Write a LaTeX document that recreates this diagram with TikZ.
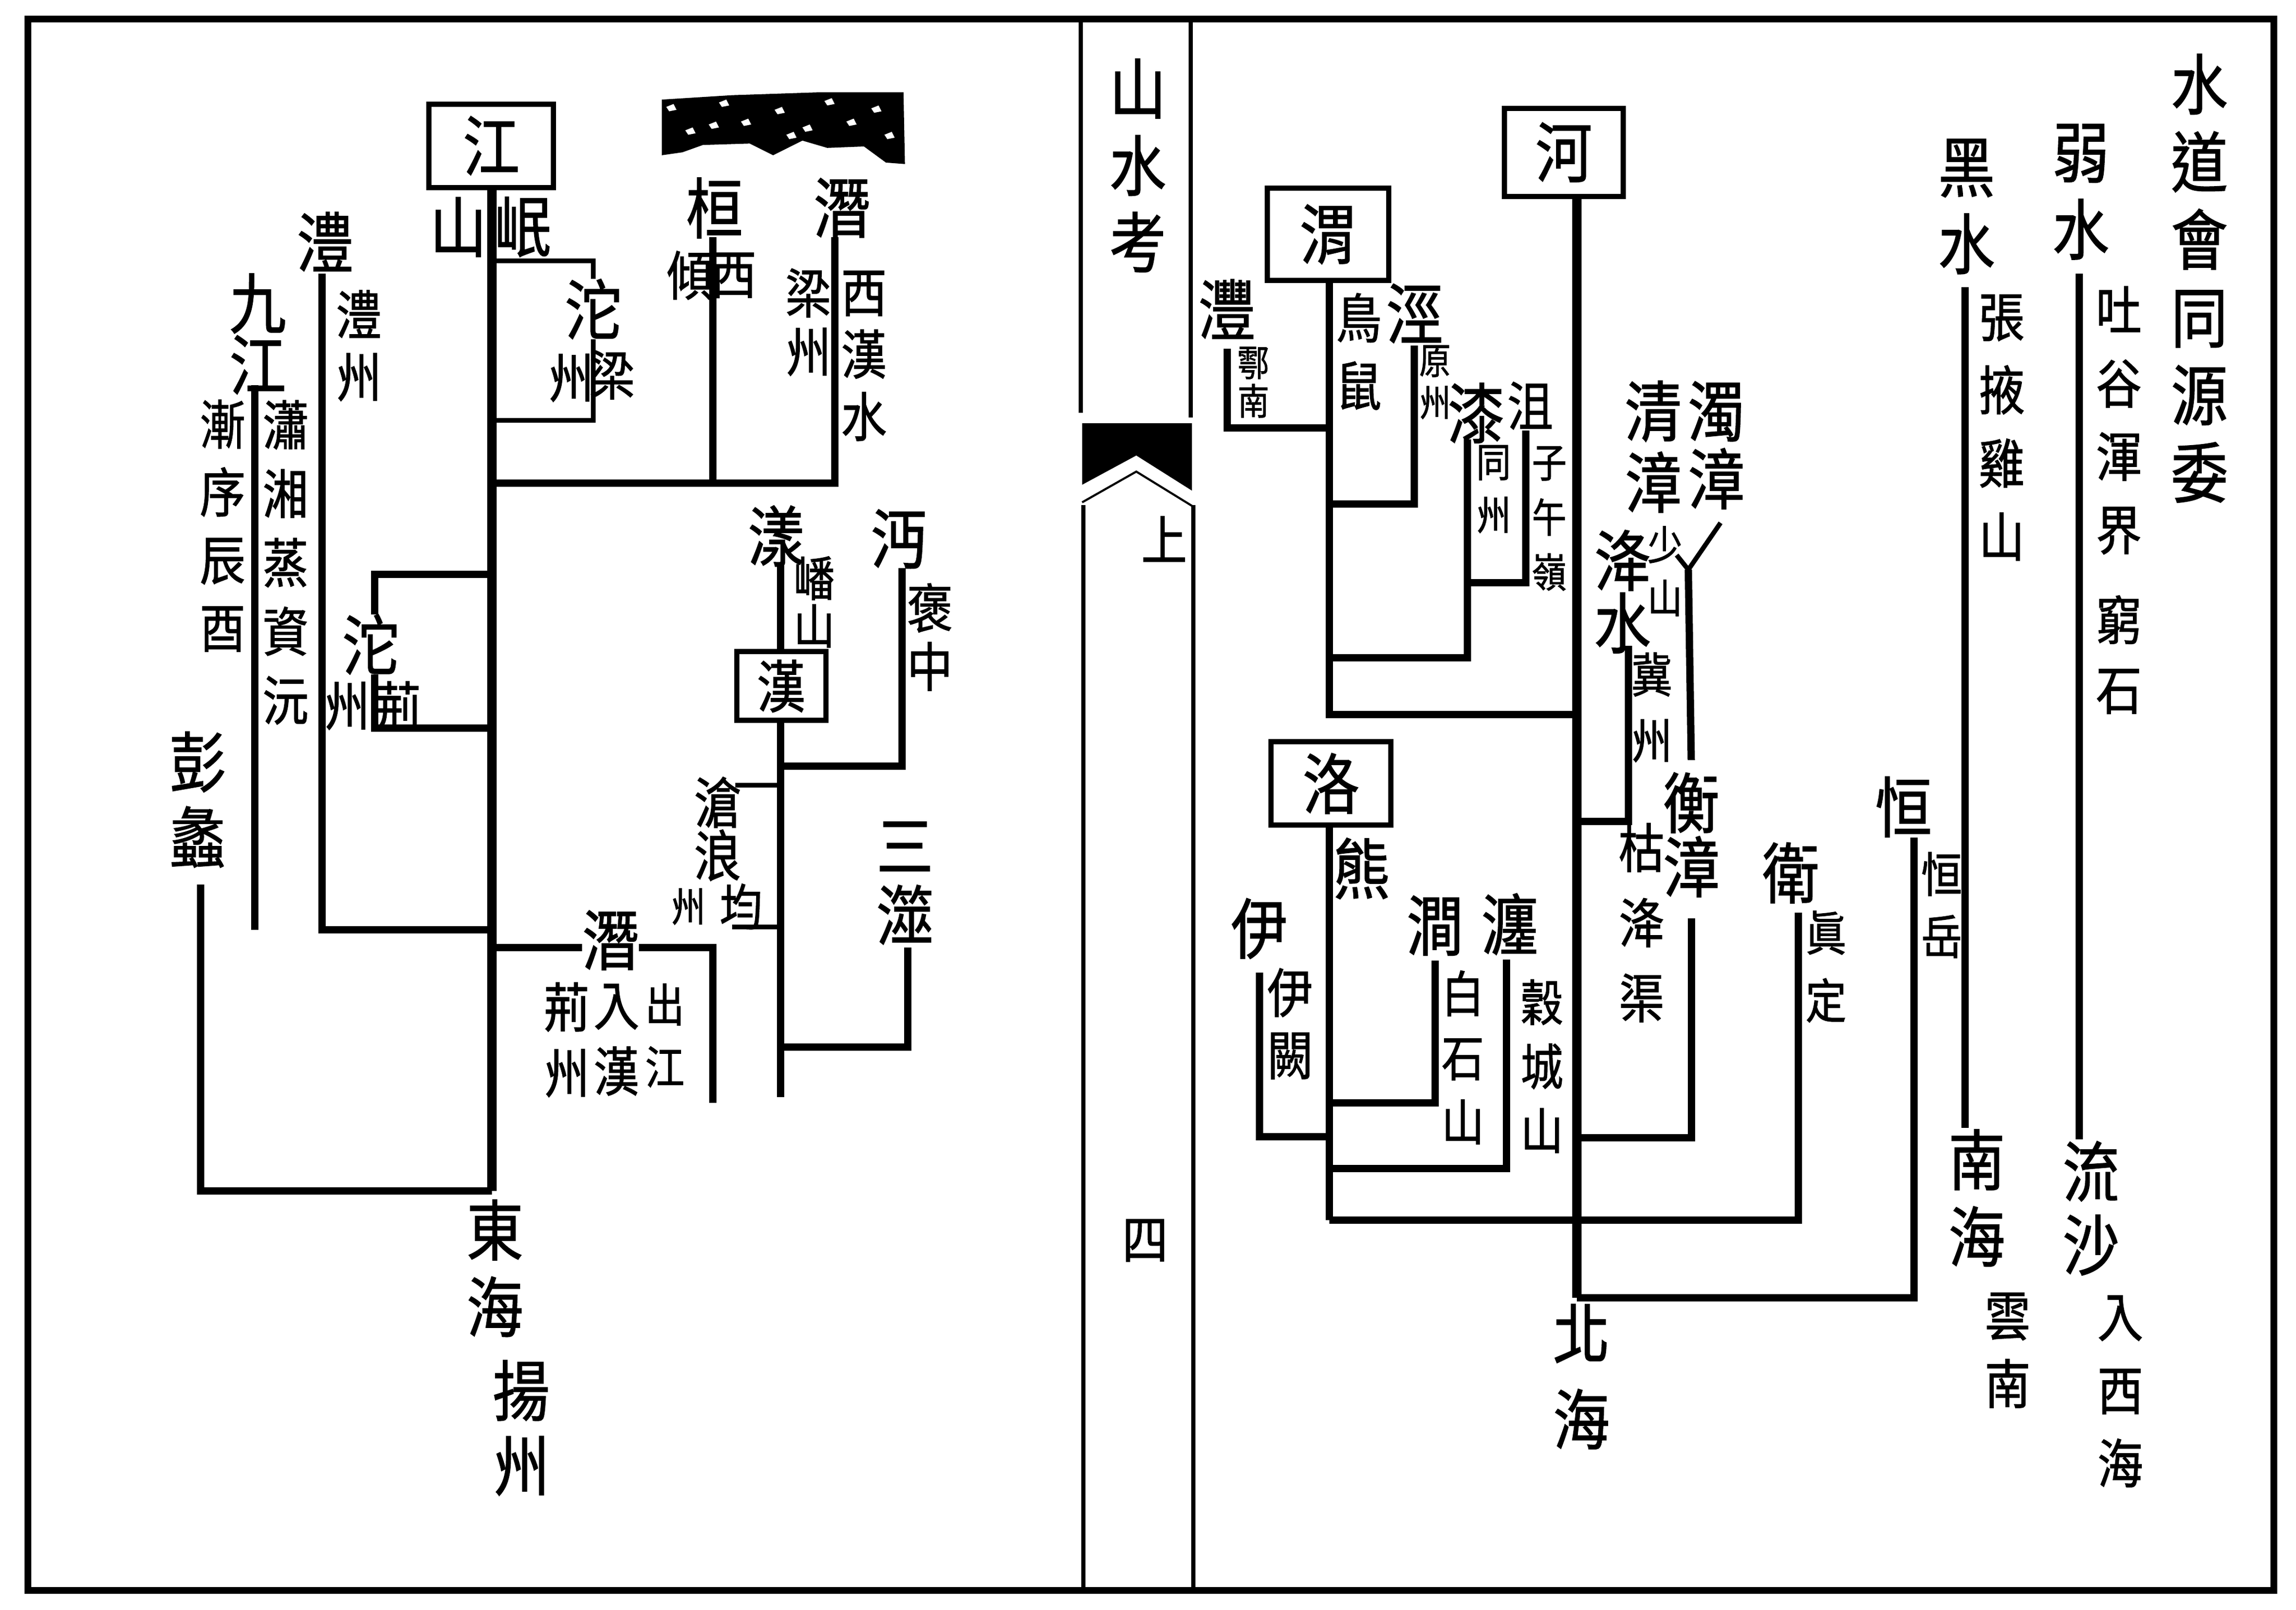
\documentclass[tikz,border=0pt]{standalone}
\usepackage{fontspec}
\usepackage{tikz}
\usetikzlibrary{positioning}
\newfontfamily\cjk[FakeStretch=0.86, FakeBold=1.2]{Noto Sans CJK TC}

\tikzset{
  mainline/.style={line width=1.8mm},
  river/.style={line width=1.4mm},
  thinriver/.style={line width=0.9mm},
  rivbox/.style={draw, line width=1.0mm, inner sep=0pt, font=\cjk\fontsize{36}{36}\selectfont},
  tx/.style 2 args={inner sep=0pt, align=center, font=\cjk\fontsize{#1}{#2}\selectfont},
  bigtxt/.style={tx={36}{#1}},
  bigtxt/.default=42,
  midtxt/.style={tx={29}{#1}},
  midtxt/.default=40,
  smalltxt/.style={tx={22}{#1}},
  smalltxt/.default=29,
  cover/.style={fill=white}
}

\begin{document}
\begin{tikzpicture}[x=0.281mm, y=-0.281mm]
    \fill[white] (0,0) rectangle (1568,1099.3);
    \useasboundingbox (0,0) rectangle (1568,1099.3);

    % Frame and centre column
    \draw[line width=1.3mm] (19,13) rectangle (1553,1086);
    \draw[line width=0.8mm] (738,13) -- (738,282);
    \draw[line width=0.8mm] (813,13) -- (813,285);
    \draw[line width=0.8mm] (740,345) -- (740,1086);
    \draw[line width=0.8mm] (815,345) -- (815,1086);
    \fill (739,289) -- (814,289) -- (814,335) -- (776,311) -- (739,331) -- cycle;
    \draw[line width=0.4mm] (739,343) -- (776,322) -- (815,346);
    \node[bigtxt] (shanshuikao) at (777,113) {山\\水\\考};
    \node[midtxt] (shang) at (795,368) {上};
    \node[midtxt] (si) at (782,847) {四};

    % Blotted heading, left page
    \fill (452,68) -- (500,65) -- (560,63) -- (617,63) -- (618,112) -- (605,111) -- (590,100)
          -- (565,101) -- (548,96) -- (528,106) -- (512,98) -- (480,99) -- (466,104) -- (452,106) -- cycle;
    \foreach \spot in {(458,74),(471,90),(494,71),(509,84),(532,76),(551,88),(566,70),(581,84),(598,75),(607,93),(487,86),(540,93)} {
        \fill[white] \spot ++(-3,-1) -- ++(5,-2) -- ++(2,4) -- ++(-5,1) -- cycle;
    }

    % Right page: title
    \node[bigtxt=42.4] (title) at (1502,190) {水\\道\\會\\同\\源\\委};

    % Define boxes
    \node[rivbox, minimum width=22.8mm, minimum height=16.9mm] (he) at (1068,104) {河};
    \node[rivbox, minimum width=23.3mm, minimum height=17.7mm] (wei) at (907,160) {渭};
    \node[rivbox, minimum width=23.0mm, minimum height=16.0mm] (luo) at (909,535) {洛};
    \node[rivbox, minimum width=23.9mm, minimum height=16.0mm] (jiang) at (335.5,99.5) {江};
    \node[rivbox, minimum width=17.1mm, minimum height=13.2mm,
          font=\cjk\fontsize{31}{31}\selectfont] (han) at (533.5,468.5) {漢};

    % Define junctions and free ends
    \coordinate (ruo-top) at (1420,187);   \coordinate (ruo-end) at (1420,778);
    \coordinate (hei-top) at (1342,196);   \coordinate (hei-end) at (1342,770);
    \coordinate (heng-top) at (1307,572);  \coordinate (he-end) at (1077,886);
    \coordinate (wei2-top) at (1228,623);  \coordinate (luo-end) at (908,833);
    \coordinate (zhang-y) at (1153,389);   \coordinate (zhang-mid) at (1155,519);
    \coordinate (zhuo-top) at (1175,357);  \coordinate (qing-top) at (1145,379);
    \coordinate (heng2-top) at (1155,627); \coordinate (heng2-j) at (1077,777);
    \coordinate (jiang2-top) at (1112,441);\coordinate (jiang2-j) at (1077,561);
    \coordinate (wei-j) at (1077,488);
    \coordinate (feng-top) at (838,238);   \coordinate (feng-j) at (908,292);
    \coordinate (jing-top) at (966,236);   \coordinate (jing-j) at (908,344);
    \coordinate (qi-top) at (1002,300);    \coordinate (qi-j) at (908,449);
    \coordinate (ju-top) at (1042,294);    \coordinate (ju-j) at (1002,398);
    \coordinate (yi-top) at (860,664);     \coordinate (yi-j) at (908,776);
    \coordinate (jian-top) at (980,656);   \coordinate (jian-j) at (908,753);
    \coordinate (chan-top) at (1029,655);  \coordinate (chan-j) at (908,798);
    \coordinate (jiang-end) at (336,813);
    \coordinate (tuoa-j1) at (336,178);    \coordinate (tuoa-c) at (405,287);
    \coordinate (tuoa-j2) at (336,287);
    \coordinate (qiana-top) at (570,162);  \coordinate (qiana-j) at (336,330);
    \coordinate (huan-top) at (487,162);   \coordinate (huan-j) at (487,330);
    \coordinate (yang-top) at (533,385);   \coordinate (han-end) at (533,749);
    \coordinate (mian-top) at (616,388);   \coordinate (mian-j) at (533,523);
    \coordinate (cang-top) at (502,536);   \coordinate (cang-j) at (533,536);
    \coordinate (cang-bot) at (500,633);   \coordinate (cang-j2) at (533,633);
    \coordinate (sanshi-top) at (620,647); \coordinate (sanshi-j) at (533,715);
    \coordinate (qianb-j) at (336,647);    \coordinate (qianb-end) at (487,753);
    \coordinate (tuob-j1) at (336,392);    \coordinate (tuob-c) at (256,497);
    \coordinate (tuob-j2) at (336,497);
    \coordinate (li-top) at (220,187);     \coordinate (li-j) at (336,635);
    \coordinate (jiu-top) at (174,263);    \coordinate (jiu-end) at (174,635);
    \coordinate (peng-top) at (137,604);

    % Draw rivers, right page
    \draw[river] (ruo-top) -- (ruo-end);
    \draw[river] (hei-top) -- (hei-end);
    \draw[mainline] (he.south -| he-end) -- (he-end);
    \draw[river] (heng-top) |- (he-end);
    \draw[river] (wei2-top) |- (luo-end);
    \draw[thinriver] (zhuo-top) -- (zhang-y);
    \draw[thinriver] (qing-top) -- (zhang-y);
    \draw[river] (zhang-y) -- (zhang-mid);
    \draw[river] (heng2-top) |- (heng2-j);
    \draw[river] (jiang2-top) |- (jiang2-j);
    \draw[river] (wei.south -| feng-j) |- (wei-j);
    \draw[river] (feng-top) |- (feng-j);
    \draw[river] (jing-top) |- (jing-j);
    \draw[river] (qi-top) |- (qi-j);
    \draw[river] (ju-top) |- (ju-j);
    \draw[river] (luo.south -| luo-end) -- (luo-end);
    \draw[river] (yi-top) |- (yi-j);
    \draw[river] (jian-top) |- (jian-j);
    \draw[river] (chan-top) |- (chan-j);

    % Draw rivers, left page
    \draw[mainline] (jiang.south -| jiang-end) -- (jiang-end);
    \draw[thinriver] (tuoa-j1) -| (tuoa-c) -- (tuoa-j2);
    \draw[river] (qiana-top) |- (qiana-j);
    \draw[river] (huan-top) -- (huan-j);
    \draw[river] (yang-top) -- (han.north -| yang-top);
    \draw[river] (han.south -| han-end) -- (han-end);
    \draw[river] (mian-top) |- (mian-j);
    \draw[thinriver] (cang-top) -- (cang-j);
    \draw[thinriver] (cang-bot) -- (cang-j2);
    \draw[river] (sanshi-top) |- (sanshi-j);
    \draw[river] (qianb-j) -| (qianb-end);
    \draw[river] (tuob-j1) -| (tuob-c) -- (tuob-j2);
    \draw[river] (li-top) |- (li-j);
    \draw[river] (jiu-top) -- (jiu-end);
    \draw[river] (peng-top) |- (jiang-end);

    % Labels, right page
    \node[bigtxt] (ruoshui) at (1421,131) {弱\\水};
    \node[midtxt] (tuyuhun) at (1447,287) {吐\\谷\\渾\\界};
    \node[midtxt=38] (qiongshi) at (1447,447) {窮\\石};
    \node[bigtxt=40] (liusha) at (1428,825) {流\\沙};
    \node[midtxt] (ruxihai) at (1448,950) {入\\西\\海};
    \node[bigtxt] (heishui) at (1343,141) {黑\\水};
    \node[midtxt] (zhangye) at (1367,292) {張\\掖\\雞\\山};
    \node[bigtxt] (nanhai) at (1350,818) {南\\海};
    \node[midtxt=37] (yunnan) at (1371,922) {雲\\南};
    \node[bigtxt] (heng) at (1300,551) {恒};
    \node[tx={26}{34}] (hengyue) at (1326,618) {恒\\岳};
    \node[bigtxt] (wei2) at (1223,596) {衛};
    \node[tx={26}{37}] (zhending) at (1247,660) {眞\\定};
    \node[bigtxt=47] (beihai) at (1080,940) {北\\海};
    \node[bigtxt=37] (zhuozhang) at (1172,304) {濁\\漳};
    \node[bigtxt=39] (qingzhang) at (1129,305) {清\\漳};
    \node[smalltxt] (shaoshan) at (1137,390) {少\\山};
    \node[bigtxt=35] (hengzhang) at (1155,570) {衡\\漳};
    \node[bigtxt=33] (jiangshui) at (1108,404) {洚\\水};
    \node[tx={26}{36}] (jizhou) at (1128,483) {冀\\州};
    \node[midtxt=41] (kujiang) at (1121,630) {枯\\洚\\渠};
    \node[bigtxt] (feng) at (838,211) {灃};
    \node[tx={20}{21}] (hunan) at (856,261) {鄠\\南};
    \node[midtxt=37] (niaoshu) at (928,240) {鳥\\鼠};
    \node[bigtxt] (jing) at (966,214) {涇};
    \node[tx={20}{23}] (yuanzhou) at (980,261) {原\\州};
    \node[bigtxt] (qi) at (1008,282) {漆};
    \node[smalltxt] (tongzhou) at (1020,334) {同\\州};
    \node[midtxt] (ju) at (1045,277) {沮};
    \node[smalltxt=30] (ziwuling) at (1058,354) {子\\午\\嶺};
    \node[bigtxt] (xiong) at (930,593) {熊};
    \node[bigtxt] (yi) at (860,634) {伊};
    \node[midtxt=34] (yique) at (881,699) {伊\\闕};
    \node[bigtxt] (jian) at (980,632) {澗};
    \node[tx={27}{35}] (baishi) at (999,722) {白\\石\\山};
    \node[bigtxt] (chan) at (1031,631) {瀍};
    \node[tx={27}{35}] (gucheng) at (1053,728) {穀\\城\\山};

    % Labels, left page
    \node[bigtxt] (shan) at (313,155) {山};
    \node[bigtxt] (min) at (357,155) {岷};
    \node[bigtxt, cover] (tuoa) at (405,211) {沱};
    \node[midtxt] (tuoa-zhou) at (390,258) {州};
    \node[midtxt] (tuoa-liang) at (418,256) {梁};
    \node[bigtxt] (qiana) at (575,142) {潛};
    \node[midtxt=32] (liangzhou) at (552,220) {梁\\州};
    \node[midtxt=34] (xihanshui) at (590,243) {西\\漢\\水};
    \node[bigtxt] (huan) at (488,142) {桓};
    \node[midtxt] (huan-qing) at (471,188) {傾};
    \node[midtxt] (huan-xi) at (501,188) {西};
    \node[bigtxt] (yang) at (530,366) {漾};
    \node[tx={26}{26}] (boshan) at (556,411) {嶓\\山};
    \node[bigtxt] (mian) at (614,368) {沔};
    \node[midtxt=32] (baozhong) at (635,435) {褒\\中};
    \node[tx={30}{27}] (canglang) at (490,566) {滄\\浪};
    \node[smalltxt] (cang-zhou) at (470,619) {州};
    \node[tx={27}{27}] (cang-jun) at (506,619) {均};
    \node[bigtxt=38] (sanshi) at (618,603) {三\\澨};
    \node[bigtxt, cover] (qianb) at (417,642) {潛};
    \node[midtxt=36] (jingzhou) at (387,710) {荊\\州};
    \node[midtxt=36] (ruhan) at (421,710) {入\\漢};
    \node[tx={25}{34}] (chujiang) at (454,707) {出\\江};
    \node[bigtxt, cover] (tuob) at (253,440) {沱};
    \node[midtxt] (tuob-zhou) at (237,482) {州};
    \node[midtxt] (tuob-jing) at (272,482) {荊};
    \node[bigtxt] (li) at (222,165) {澧};
    \node[midtxt=34] (lizhou) at (245,236) {澧\\州};
    \node[bigtxt=30] (jiujiang) at (176,228) {九\\江};
    \node[midtxt=37.6] (xiaoxiang) at (195,384) {瀟\\湘\\蒸\\資\\沅};
    \node[midtxt=37] (jianxu) at (152,359) {漸\\序\\辰\\酉};
    \node[bigtxt=41] (pengli) at (135,546) {彭\\蠡};
    \node[bigtxt] (donghai) at (338,866) {東\\海};
    \node[bigtxt=41] (yangzhou) at (356,975) {揚\\州};
\end{tikzpicture}
\end{document}
